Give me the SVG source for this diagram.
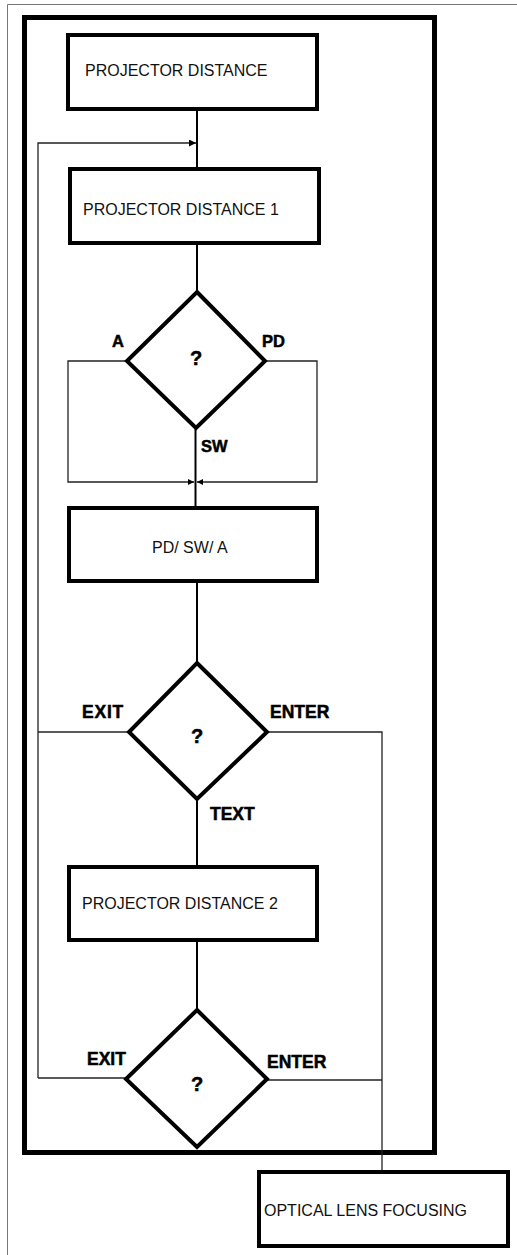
<svg xmlns="http://www.w3.org/2000/svg" width="517" height="1255" viewBox="0 0 517 1255">
<style>
.box{fill:#fff;stroke:#000;stroke-width:4}
.dia{fill:#fff;stroke:#000;stroke-width:4}
.frame{fill:none;stroke:#000;stroke-width:5}
.page{fill:none;stroke:#777;stroke-width:1}
.thick{fill:none;stroke:#000;stroke-width:2}
.thin{fill:none;stroke:#222;stroke-width:1.3}
.t{font-family:"Liberation Sans",Arial,sans-serif;font-size:16px;fill:#111}
.b{font-family:"Liberation Sans",Arial,sans-serif;font-weight:bold;font-size:17.5px;fill:#000;stroke:#000;stroke-width:0.5}
.s{font-size:16.5px}
.q{font-size:20px}
</style>
<defs>
<marker id="ah" viewBox="0 0 10 10" refX="10" refY="5" markerWidth="9" markerHeight="7" markerUnits="userSpaceOnUse" orient="auto"><path d="M0,0 L10,5 L0,10 Z" fill="#000"/></marker>
<marker id="ahs" viewBox="0 0 10 10" refX="10" refY="5" markerWidth="7" markerHeight="6" markerUnits="userSpaceOnUse" orient="auto"><path d="M0,0 L10,5 L0,10 Z" fill="#000"/></marker>
</defs>
<path class="page" d="M7.5,1255 V4.5 H517"/>
<rect class="frame" x="24.5" y="17.5" width="410" height="1135"/>
<g id="connectors">
<line class="thick" x1="197" y1="109" x2="197" y2="169"/>
<path class="thin" d="M38,1078 V143 H196" marker-end="url(#ah)"/>
<line class="thick" x1="197" y1="243" x2="197" y2="292"/>
<path class="thin" d="M127,361 H68 V482 H194" marker-end="url(#ahs)"/>
<path class="thin" d="M265,361 H317 V482 H197" marker-end="url(#ahs)"/>
<line class="thick" x1="195.5" y1="428" x2="195.5" y2="508"/>
<line class="thick" x1="197" y1="581" x2="197" y2="663"/>
<path class="thin" d="M129,732 H38"/>
<path class="thin" d="M267,732 H382 V1172"/>
<line class="thick" x1="197" y1="799" x2="197" y2="867"/>
<line class="thick" x1="197" y1="940" x2="197" y2="1010"/>
<path class="thin" d="M126,1078 H38"/>
<path class="thin" d="M267,1080 H382"/>
</g>
<g id="n1"><rect class="box" x="68" y="35" width="249" height="74"/><text class="t" x="85" y="76">PROJECTOR DISTANCE</text></g>
<g id="n2"><rect class="box" x="70" y="169" width="249" height="74"/><text class="t" x="83" y="215">PROJECTOR DISTANCE 1</text></g>
<g id="d1"><polygon class="dia" points="197,292 265,361 196,428 127,361"/><text class="b q" x="196" y="365" text-anchor="middle">?</text>
<text class="b s" x="112" y="347">A</text><text class="b s" x="262" y="347">PD</text><text class="b s" x="201" y="452">SW</text></g>
<g id="n3"><rect class="box" x="69" y="508" width="248" height="73"/><text class="t" x="152" y="553">PD/ SW/ A</text></g>
<g id="d2"><polygon class="dia" points="197,663 267,732 197,799 129,732"/><text class="b q" x="197" y="743" text-anchor="middle">?</text>
<text class="b" x="82" y="718" letter-spacing="0.8">EXIT</text><text class="b" x="270" y="718">ENTER</text><text class="b" x="210" y="820">TEXT</text></g>
<g id="n4"><rect class="box" x="69" y="867" width="248" height="73"/><text class="t" x="82" y="909">PROJECTOR DISTANCE 2</text></g>
<g id="d3"><polygon class="dia" points="197,1010 267,1079 197,1147 126,1079"/><text class="b q" x="197" y="1091" text-anchor="middle">?</text>
<text class="b" x="87" y="1065">EXIT</text><text class="b" x="267" y="1068">ENTER</text></g>
<g id="n5"><rect class="box" x="259" y="1172" width="249" height="74"/><text class="t" x="264" y="1216">OPTICAL LENS FOCUSING</text></g>
</svg>
